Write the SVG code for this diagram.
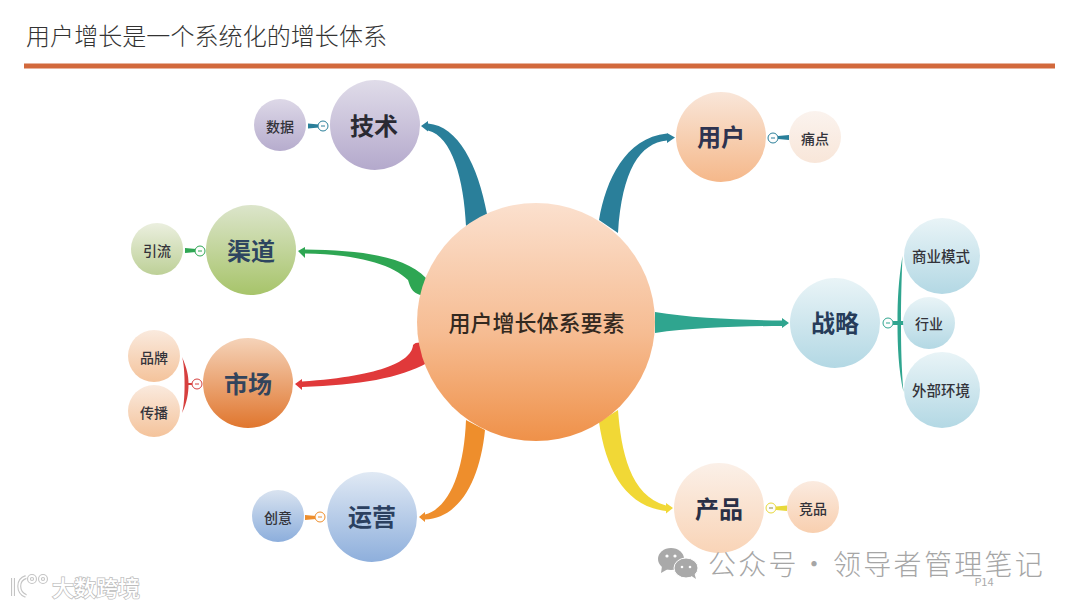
<svg xmlns="http://www.w3.org/2000/svg" width="1080" height="608" viewBox="0 0 1080 608">
<style>
text{font-family:"Noto Sans CJK SC","Noto Sans",sans-serif;text-anchor:middle}
.main{font-size:24px;font-weight:700}
.sub{font-size:14px;font-weight:500;fill:#33333a}
.wide{font-size:14.500px}
.tg{fill:#fdfdfd;stroke-width:1}
.minus{stroke-width:1;fill:none}
</style>
<defs>
<filter id="soft" x="-10%" y="-30%" width="120%" height="160%"><feGaussianBlur stdDeviation="0.5"/></filter>
<linearGradient id="gC" x1="0" y1="0" x2="0" y2="1"><stop offset="0" stop-color="#FBE0CE"/><stop offset="0.55" stop-color="#F6BC92"/><stop offset="1" stop-color="#EF9149"/></linearGradient>
<linearGradient id="gTech" x1="0" y1="0" x2="0" y2="1"><stop offset="0" stop-color="#E0DCE9"/><stop offset="1" stop-color="#B4A9CC"/></linearGradient>
<linearGradient id="gData" x1="0" y1="0" x2="0" y2="1"><stop offset="0" stop-color="#DDD8E7"/><stop offset="1" stop-color="#B6ACCD"/></linearGradient>
<linearGradient id="gChan" x1="0" y1="0" x2="0" y2="1"><stop offset="0" stop-color="#DCE5CB"/><stop offset="1" stop-color="#A7C46A"/></linearGradient>
<linearGradient id="gFlow" x1="0" y1="0" x2="0" y2="1"><stop offset="0" stop-color="#EBEFDF"/><stop offset="1" stop-color="#BDD097"/></linearGradient>
<linearGradient id="gMkt" x1="0" y1="0" x2="0" y2="1"><stop offset="0" stop-color="#F5D3B9"/><stop offset="1" stop-color="#E0762E"/></linearGradient>
<linearGradient id="gBrand" x1="0" y1="0" x2="0" y2="1"><stop offset="0" stop-color="#FAEADE"/><stop offset="1" stop-color="#F4C39B"/></linearGradient>
<linearGradient id="gOps" x1="0" y1="0" x2="0" y2="1"><stop offset="0" stop-color="#E0E9F4"/><stop offset="1" stop-color="#8EAFDC"/></linearGradient>
<linearGradient id="gIdea" x1="0" y1="0" x2="0" y2="1"><stop offset="0" stop-color="#D9E3F0"/><stop offset="1" stop-color="#8CAEDC"/></linearGradient>
<linearGradient id="gUser" x1="0" y1="0" x2="0" y2="1"><stop offset="0" stop-color="#F9E6D9"/><stop offset="1" stop-color="#F5B88A"/></linearGradient>
<linearGradient id="gPain" x1="0" y1="0" x2="0" y2="1"><stop offset="0" stop-color="#FBF3EE"/><stop offset="1" stop-color="#F8E6D9"/></linearGradient>
<linearGradient id="gProd" x1="0" y1="0" x2="0" y2="1"><stop offset="0" stop-color="#FBF0E8"/><stop offset="1" stop-color="#F9D4B7"/></linearGradient>
<linearGradient id="gComp" x1="0" y1="0" x2="0" y2="1"><stop offset="0" stop-color="#FBEBE0"/><stop offset="1" stop-color="#F8CFAF"/></linearGradient>
<linearGradient id="gStrat" x1="0" y1="0" x2="0" y2="1"><stop offset="0" stop-color="#E9F4F7"/><stop offset="1" stop-color="#B3D8E4"/></linearGradient>
</defs>
<rect width="1080" height="608" fill="#fff"/>
<text x="26" y="45" style="text-anchor:start;font-size:24px;font-weight:300;fill:#333" textLength="361">用户增长是一个系统化的增长体系</text>
<rect x="24" y="63.500" width="1031" height="5" fill="#D2693C"/>

<g id="connectors">
<path fill="#2A7F9A" d="M466,226C464,180 452,136 428,130.500L428,131.500L421,126L428,121L428,123.500C458,126 478,165 487,214Z"/>
<path fill="#2A7F9A" d="M599,220C606,180 625,138 667,133.500L667,133L675,137.500L667,143L667,140.500C640,143 622,170 618,233Z"/>
<path fill="#2FA58F" d="M655,312C690,318 740,320 782,320.500L782,318L789,323L782,328L782,326C740,326 690,328 655,333Z"/>
<path fill="#F1D836" d="M618,410C621,450 630,496 666,505.500L666,503L673,508L666,513.500L666,511C625,506 606,470 599,422Z"/>
<path fill="#2EA653" d="M426,278C405,256 360,250 305,249.500L305,247L298,251L305,258L305,253.500C355,254 392,264 408,280C411,290 414,296 430,296Z"/>
<path fill="#E0393A" d="M413,345C412,360 385,376 302,381.500L302,379L295,384L302,390L302,387C360,385 400,378 427,363L425,343C420,342 415,342 413,345Z"/>
<path fill="#EE8E2C" d="M466,420C464,470 450,508 425,514.500L425,512L419,517L425,522L425,519.500C460,518 480,480 485,430Z"/>

<path fill="#2A7F9A" d="M308,123.500L319,124.500L319,127.500L308,128.500Z"/>
<path fill="#2EA653" d="M185,248L196,249L196,252L185,253Z"/>
<path fill="#EE8E2C" d="M305,515L316,516L316,519L305,520Z"/>
<path fill="#2A7F9A" d="M778,136L789,135L789,140L778,139Z"/>
<path fill="#E8D93A" d="M776,506.500L787,505.500L787,511L776,510Z"/>
<path fill="#D6403F" d="M182,357C187,368 188.500,376 188.500,383L193,383L193,385L188.500,385C188.500,393 187,403 182,413C185.500,402 185.500,368 182,357Z"/>
<path fill="#2FA58F" d="M902.500,256C898.500,280 897.500,300 897.500,321L893,321L893,325L897.500,325C897.500,345 898.500,370 903.500,392C901.500,370 901,345 901,325L904,325L904,321L901,321C901,300 901.500,280 902.500,256Z"/>
<g id="toggles">
<circle class="tg" cx="323" cy="126" r="5" stroke="#2A7F9A"/><path class="minus" d="M321,126H325" stroke="#2A7F9A"/>
<circle class="tg" cx="200" cy="251" r="5" stroke="#2EA653"/><path class="minus" d="M198,251H202" stroke="#2EA653"/>
<circle class="tg" cx="197" cy="384" r="5" stroke="#D6403F"/><path class="minus" d="M195,384H199" stroke="#D6403F"/>
<circle class="tg" cx="320" cy="517" r="5" stroke="#EE8E2C"/><path class="minus" d="M318,517H322" stroke="#EE8E2C"/>
<circle class="tg" cx="773" cy="138" r="5" stroke="#2A7F9A"/><path class="minus" d="M771,138H775" stroke="#2A7F9A"/>
<circle class="tg" cx="888" cy="323" r="5" stroke="#2FA58F"/><path class="minus" d="M886,323H890" stroke="#2FA58F"/>
<circle class="tg" cx="771" cy="508" r="5" stroke="#E8D93A"/><path class="minus" d="M769,508H773" stroke="#8a8a40"/>
</g>
</g>

<g id="center"><circle cx="536" cy="322" r="119" fill="url(#gC)"/><text x="536.500" y="331" style="font-size:22px;font-weight:500;fill:#33291f">用户增长体系要素</text></g>
<g id="tech"><circle cx="375" cy="125" r="45" fill="url(#gTech)"/><text class="main" x="374" y="135" fill="#2a2a33">技术</text></g>
<g id="data"><circle cx="280" cy="125" r="26" fill="url(#gData)"/><text class="sub" x="280" y="132">数据</text></g>
<g id="channel"><circle cx="251" cy="250" r="45" fill="url(#gChan)"/><text class="main" x="251" y="260" fill="#2E4560">渠道</text></g>
<g id="traffic"><circle cx="157" cy="249" r="26" fill="url(#gFlow)"/><text class="sub" x="157" y="256">引流</text></g>
<g id="market"><circle cx="248" cy="383" r="45" fill="url(#gMkt)"/><text class="main" x="248" y="393" fill="#33445C">市场</text></g>
<g id="brand"><circle cx="154" cy="356" r="26" fill="url(#gBrand)"/><text class="sub" x="154" y="363">品牌</text></g>
<g id="spread"><circle cx="154" cy="411" r="26" fill="url(#gBrand)"/><text class="sub" x="154" y="418">传播</text></g>
<g id="ops"><circle cx="372" cy="517" r="45" fill="url(#gOps)"/><text class="main" x="372" y="526" fill="#2B4060">运营</text></g>
<g id="idea"><circle cx="278" cy="516" r="26" fill="url(#gIdea)"/><text class="sub" x="278" y="523">创意</text></g>
<g id="user"><circle cx="721" cy="137" r="45" fill="url(#gUser)"/><text class="main" x="721" y="146" fill="#2E3350">用户</text></g>
<g id="pain"><circle cx="815" cy="137" r="26" fill="url(#gPain)"/><text class="sub" x="815" y="144">痛点</text></g>
<g id="strategy"><circle cx="835" cy="323" r="45" fill="url(#gStrat)"/><text class="main" x="835" y="332" fill="#263C5A">战略</text></g>
<g id="model"><circle cx="942" cy="256" r="38" fill="url(#gStrat)"/><text class="sub wide" x="941" y="262">商业模式</text></g>
<g id="industry"><circle cx="929" cy="323" r="26" fill="url(#gStrat)"/><text class="sub" x="929" y="329">行业</text></g>
<g id="env"><circle cx="942" cy="390" r="38" fill="url(#gStrat)"/><text class="sub wide" x="941" y="396">外部环境</text></g>
<g id="product"><circle cx="719" cy="508" r="45" fill="url(#gProd)"/><text class="main" x="719" y="518" fill="#2A2F45">产品</text></g>
<g id="compete"><circle cx="813" cy="507" r="26" fill="url(#gComp)"/><text class="sub" x="813" y="514">竞品</text></g>

<g id="watermark">
<ellipse cx="671" cy="559" rx="13" ry="11" fill="#a9a9a9"/><path d="M662,566L661,573L668,569Z" fill="#a9a9a9"/>
<ellipse cx="686" cy="568" rx="12" ry="10" fill="#a9a9a9" stroke="#fff" stroke-width="1"/><path d="M690,575L696,579L694,572Z" fill="#a9a9a9"/>
<circle cx="667" cy="556" r="1.600" fill="#fff"/><circle cx="675" cy="556" r="1.600" fill="#fff"/>
<circle cx="682" cy="567" r="1.300" fill="#fff"/><circle cx="690" cy="567" r="1.300" fill="#fff"/>
<text y="575" style="text-anchor:start;font-size:28px;font-weight:300;fill:#a6a6a6;letter-spacing:2.300px"><tspan x="708">公众号</tspan><tspan x="800">·</tspan><tspan x="833">领导者管理笔记</tspan></text>
<text x="984" y="586" style="font-size:11px;fill:#aaa">P14</text>
<g fill="none" stroke="#c4c4c4" stroke-width="4" filter="url(#soft)">
<path d="M13,578V596"/><path d="M26,577C17,580 17,592 26,596"/><circle cx="32" cy="579" r="3"/><circle cx="43" cy="579" r="3"/>
</g>
<g fill="none" stroke="#fff" stroke-width="1.800">
<path d="M13,578V596"/><path d="M26,577C17,580 17,592 26,596"/><circle cx="32" cy="579" r="3"/><circle cx="43" cy="579" r="3"/>
</g>
<text x="96" y="596" style="font-size:22px;font-weight:500;fill:#fff;stroke:#bdbdbd;stroke-width:1.500px;paint-order:stroke" textLength="88">大数跨境</text>
</g>
</svg>
